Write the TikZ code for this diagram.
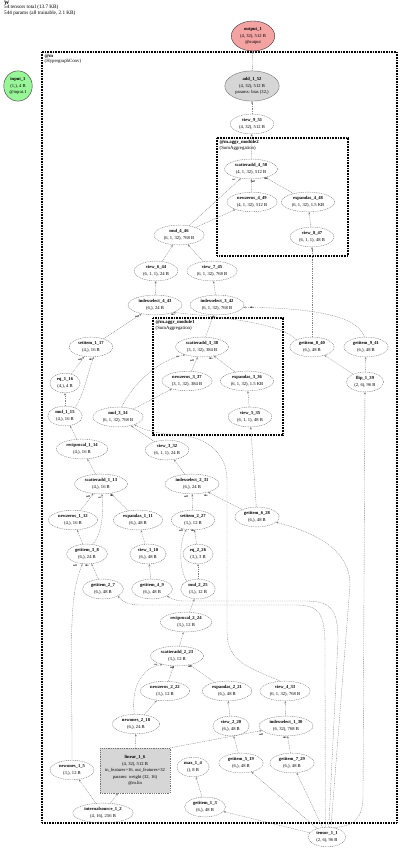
\documentclass[tikz,border=0pt]{standalone}
\usepackage{fontspec}
\setmainfont{Liberation Serif}
\usetikzlibrary{shapes.geometric,arrows.meta}
\definecolor{outred}{HTML}{F4A3A3}
\definecolor{ingreen}{HTML}{98F598}
\definecolor{parmgray}{HTML}{D6D6D6}
\begin{document}
\begin{tikzpicture}[x=1pt,y=-1pt,
  every node/.style={font=\fontsize{4.6}{6.6}\selectfont, align=center},
  op/.style={ellipse, draw=black!55, dash pattern=on 1pt off 0.8pt, line width=0.4pt, inner xsep=2.6pt, inner ysep=1.6pt},
  special/.style={ellipse, draw=black!80, line width=0.4pt, inner xsep=2.5pt, inner ysep=2pt},
  conn/.style={draw=black!50, dash pattern=on 1pt off 0.8pt, line width=0.35pt, -{Stealth[length=2.4pt,width=1.9pt]}},
  elab/.style={font=\fontsize{2.6}{3}\selectfont\bfseries, inner sep=0pt},
  clus/.style={draw=black, line width=1.1pt, dash pattern=on 1pt off 0.6pt},
  cl/.style={font=\fontsize{4.8}{5.6}\selectfont, align=left, anchor=north west, inner sep=0pt},
]
\useasboundingbox (0,0) rectangle (400,853);

% title
\node[cl, font=\fontsize{5.2}{4.2}\selectfont] (title) at (4,1) {\textbf{W}\\54 tensors total (13.7 KB)\\544 params (all trainable, 2.1 KB)};

% clusters
\draw[clus] (42,52) rectangle (397,823);
\node[cl] (clm) at (44.5,54) {\textbf{@m}\\(HypergraphConv)};
\draw[clus] (217,138) rectangle (348,256);
\node[cl] (cla2) at (219.5,140) {\textbf{@m.aggr\_module2}\\(SumAggregation)};
\draw[clus] (153,318) rectangle (283,435);
\node[cl] (cla1) at (155.5,320) {\textbf{@m.aggr\_module1}\\(SumAggregation)};

% nodes
\node[special, fill=outred] (out1) at (253,36) {\textbf{output\_1}\\(4, 32), 512 B\\@output};
\node[special, fill=ingreen, inner xsep=1.5pt] (in1) at (18,86) {\textbf{input\_1}\\(1,), 4 B\\@input.1};
\node[special, fill=parmgray, draw=black!55] (add1) at (252,86) {\textbf{add\_1\_52}\\(4, 32), 512 B\\params: bias (32,)};
\node[op] (v9) at (252,124) {\textbf{view\_9\_51}\\(4, 32), 512 B};
\node[op] (sa4) at (251,169) {\textbf{scatteradd\_4\_50}\\(4, 1, 32), 512 B};
\node[op] (nz4) at (252,202) {\textbf{newzeros\_4\_49}\\(4, 1, 32), 512 B};
\node[op] (ea4) at (308,202) {\textbf{expandas\_4\_48}\\(6, 1, 32), 1.5 KB};
\node[op] (v8) at (312,237) {\textbf{view\_8\_47}\\(6, 1, 1), 48 B};
\node[op] (mul4) at (179,235) {\textbf{mul\_4\_46}\\(6, 1, 32), 768 B};
\node[op] (v6) at (156,271) {\textbf{view\_6\_44}\\(6, 1, 1), 24 B};
\node[op] (v7) at (212,271) {\textbf{view\_7\_45}\\(6, 1, 32), 768 B};
\node[op] (is4) at (155,305) {\textbf{indexselect\_4\_43}\\(6,), 24 B};
\node[op] (is3) at (217,305) {\textbf{indexselect\_3\_42}\\(6, 1, 32), 768 B};
\node[op] (sa3) at (202,347) {\textbf{scatteradd\_3\_38}\\(3, 1, 32), 384 B};
\node[op] (nz3) at (187,381) {\textbf{newzeros\_3\_37}\\(3, 1, 32), 384 B};
\node[op] (ea3) at (247,381) {\textbf{expandas\_3\_36}\\(6, 1, 32), 1.5 KB};
\node[op] (v5) at (250,417) {\textbf{view\_5\_35}\\(6, 1, 1), 48 B};
\node[op] (g8) at (312,347) {\textbf{getitem\_8\_40}\\(6,), 48 B};
\node[op] (g9) at (366,347) {\textbf{getitem\_9\_41}\\(6,), 48 B};
\node[op] (flip) at (365,382) {\textbf{flip\_1\_39}\\(2, 6), 96 B};
\node[op] (set1) at (91,347) {\textbf{setitem\_1\_17}\\(4,), 16 B};
\node[op] (eq1) at (65,383) {\textbf{eq\_1\_16}\\(4,), 4 B};
\node[op] (mul1) at (65,416) {\textbf{mul\_1\_15}\\(4,), 16 B};
\node[op] (mul3) at (118,417) {\textbf{mul\_3\_34}\\(6, 1, 32), 768 B};
\node[op] (rec1) at (82,449) {\textbf{reciprocal\_1\_14}\\(4,), 16 B};
\node[op] (v3) at (167,450) {\textbf{view\_3\_32}\\(6, 1, 1), 24 B};
\node[op] (sa1) at (101,484) {\textbf{scatteradd\_1\_13}\\(4,), 16 B};
\node[op] (is2) at (192,484) {\textbf{indexselect\_2\_31}\\(6,), 24 B};
\node[op] (nz1) at (73,520) {\textbf{newzeros\_1\_12}\\(4,), 16 B};
\node[op] (ea1) at (138,520) {\textbf{expandas\_1\_11}\\(6,), 48 B};
\node[op] (set2) at (193,520) {\textbf{setitem\_2\_27}\\(3,), 12 B};
\node[op] (g6) at (257,517) {\textbf{getitem\_6\_28}\\(6,), 48 B};
\node[op] (g3) at (87,554) {\textbf{getitem\_3\_8}\\(6,), 24 B};
\node[op] (v1) at (148,554) {\textbf{view\_1\_10}\\(6,), 48 B};
\node[op] (eq2) at (198,554) {\textbf{eq\_2\_26}\\(3,), 3 B};
\node[op] (g2) at (103,589) {\textbf{getitem\_2\_7}\\(6,), 48 B};
\node[op] (g4) at (152,589) {\textbf{getitem\_4\_9}\\(6,), 48 B};
\node[op] (mul2) at (198,589) {\textbf{mul\_2\_25}\\(3,), 12 B};
\node[op] (rec2) at (186,622) {\textbf{reciprocal\_2\_24}\\(3,), 12 B};
\node[op] (sa2) at (177,656) {\textbf{scatteradd\_2\_23}\\(3,), 12 B};
\node[op] (nz2) at (165,691) {\textbf{newzeros\_2\_22}\\(3,), 12 B};
\node[op] (ea2) at (227,691) {\textbf{expandas\_2\_21}\\(6,), 48 B};
\node[op] (v4) at (285,691) {\textbf{view\_4\_33}\\(6, 1, 32), 768 B};
\node[op] (no2) at (136,724) {\textbf{newones\_2\_18}\\(6,), 24 B};
\node[op] (v2) at (231,726) {\textbf{view\_2\_20}\\(6,), 48 B};
\node[op] (is1) at (286,726) {\textbf{indexselect\_1\_30}\\(6, 32), 768 B};
\node[rectangle, fill=parmgray, draw=black!55, dash pattern=on 1pt off 0.8pt, line width=0.4pt, minimum width=70pt, minimum height=45pt, inner sep=1pt] (lin) at (135,770.5) {\textbf{linear\_1\_6}\\(4, 32), 512 B\\in\_features=16, out\_features=32\\params: weight (32, 16)\\@m.lin};
\node[op] (no1) at (72,770) {\textbf{newones\_1\_5}\\(3,), 12 B};
\node[op] (max1) at (193,767) {\textbf{max\_1\_4}\\(), 8 B};
\node[op] (g5) at (241,763) {\textbf{getitem\_5\_19}\\(6,), 48 B};
\node[op] (g7) at (292,763) {\textbf{getitem\_7\_29}\\(6,), 48 B};
\node[op] (isrc) at (103,813) {\textbf{internalsource\_1\_2}\\(4, 16), 256 B};
\node[op] (g1) at (205,807) {\textbf{getitem\_1\_3}\\(6,), 48 B};
\node[op] (tens) at (327,837) {\textbf{tensor\_1\_1}\\(2, 6), 96 B};

% edges
\draw[conn] (isrc) -- (no1);
\draw[conn] (isrc) -- (lin);
\draw[conn] (tens) -- (g1);
\draw[conn] (g1) -- (max1);
\draw[conn] (tens.100) -- (325,645) .. controls (325,612) and (318,605) .. (295,605) -- (140,605) .. controls (128,605) and (122,601) .. (g2.-25);
\draw[conn] (no1.north) .. controls (72,640) and (68,600) .. (g3.-115);
\draw[conn] (g2) -- (g3);
\draw[conn] (tens.80) -- (338,640) .. controls (338,608) and (330,601) .. (305,601) -- (185,601) .. controls (176,601) and (172,599) .. (g4.-25);
\draw[conn] (g4) -- (v1);
\draw[conn] (v1) -- (ea1);
\draw[conn] (g3) -- (nz1);
\draw[conn] (nz1) -- (sa1);
\draw[conn] (ea1) -- (sa1);
\draw[conn] (g3.60) .. controls (102,535) and (104,510) .. (sa1.-85);
\draw[conn] (sa1) -- (rec1);
\draw[conn] (rec1) -- (mul1);
\draw[conn] (mul1) -- (eq1);
\draw[conn] (mul1.40) .. controls (84,395) and (88,372) .. (set1.-75);
\draw[conn] (eq1) -- (set1);
\draw[conn] (lin) -- (no2);
\draw[conn] (tens) -- (g5);
\draw[conn] (g5) -- (v2);
\draw[conn] (v2) -- (ea2);
\draw[conn] (no2) -- (nz2);
\draw[conn] (nz2) -- (sa2);
\draw[conn] (ea2) -- (sa2);
\draw[conn] (no2.100) .. controls (131,690) and (140,668) .. (sa2.-150);
\draw[conn] (sa2) -- (rec2);
\draw[conn] (rec2) -- (mul2);
\draw[conn] (mul2) -- (eq2);
\draw[conn] (mul2.145) .. controls (180,572) and (178,545) .. (set2.-125);
\draw[conn] (eq2) -- (set2);
\draw[conn] (tens.68) -- (350,585) .. controls (350,548) and (312,532) .. (g6.-15);
\draw[conn] (tens) -- (g7);
\draw[conn] (lin.north east) -- (is1);
\draw[conn] (g7) -- (is1);
\draw[conn] (set2) -- (is2);
\draw[conn] (g6) -- (is2);
\draw[conn] (is2) -- (v3);
\draw[conn] (is1) -- (v4);
\draw[conn] (v3) -- (mul3);
\draw[conn] (v4.115) .. controls (250,668) and (227,662) .. (227,632) -- (227,480) .. controls (227,452) and (205,437) .. (180,435) .. controls (160,434) and (146,431) .. (mul3.-25);
\draw[conn] (g6) -- (v5);
\draw[conn] (v5) -- (ea3);
\draw[conn] (mul3) -- (nz3);
\draw[conn] (nz3) -- (sa3);
\draw[conn] (ea3) -- (sa3);
\draw[conn] (mul3.70) .. controls (132,385) and (158,360) .. (sa3.-155);
\draw[conn] (tens.55) .. controls (355,826) and (363,818) .. (363,795) -- (flip);
\draw[conn] (flip) -- (g8);
\draw[conn] (flip) -- (g9);
\draw[conn] (sa3) -- (is3);
\draw[conn] (g9.100) .. controls (360,322) and (335,308) .. (is3.-5);
\draw[conn] (set1) -- (is4);
\draw[conn] (g8.155) .. controls (282,324) and (230,318) .. (is4.-22);
\draw[conn] (is4) -- (v6);
\draw[conn] (is3) -- (v7);
\draw[conn] (v6) -- (mul4);
\draw[conn] (v7) -- (mul4);
\draw[conn] (g8) -- (v8);
\draw[conn] (v8) -- (ea4);
\draw[conn] (mul4) -- (nz4);
\draw[conn] (nz4) -- (sa4);
\draw[conn] (ea4) -- (sa4);
\draw[conn] (mul4) -- (sa4);
\draw[conn] (sa4) -- (v9);
\draw[conn] (v9) -- (add1);
\draw[conn] (add1) -- (out1);

% edge labels
\node[elab] (l1) at (75,566) {self};
\node[elab] (l2) at (87,566) {idx};
\node[elab] (l3) at (88,497) {self};
\node[elab] (l4) at (100,497.5) {src};
\node[elab] (l5) at (112,496) {idx};
\node[elab] (l6) at (80,360) {self};
\node[elab] (l7) at (91,360) {idx};
\node[elab] (l8) at (137,317) {self};
\node[elab] (l9) at (173,315) {idx};
\node[elab] (l10) at (213,318) {self};
\node[elab] (l11) at (252,307.5) {idx};
\node[elab] (l12) at (178,357) {src};
\node[elab] (l13) at (192,361) {self};
\node[elab] (l14) at (211,359) {idx};
\node[elab] (l15) at (186,497) {self};
\node[elab] (l16) at (206,496) {idx};
\node[elab] (l17) at (181,531) {self};
\node[elab] (l18) at (193,531) {idx};
\node[elab] (l19) at (156,665) {src};
\node[elab] (l20) at (172,668) {self};
\node[elab] (l21) at (190,667) {idx};
\node[elab] (l22) at (261,734.5) {self};
\node[elab] (l23) at (285,738) {idx};
\node[elab] (l24) at (234,180) {src};
\node[elab] (l25) at (253,182) {self};
\node[elab] (l26) at (266,179) {idx};
\end{tikzpicture}
\end{document}
